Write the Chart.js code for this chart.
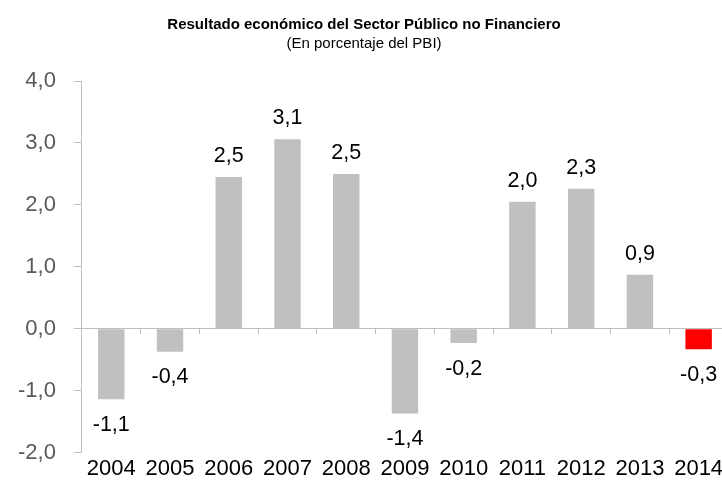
<!DOCTYPE html>
<html>
<head>
<meta charset="utf-8">
<script src="https://cdn.jsdelivr.net/npm/chart.js@4/dist/chart.umd.min.js"></script>
<style>
html,body{margin:0;padding:0;background:#fff;overflow:hidden;}
#wrap{width:732px;height:492px;position:relative;}
</style>
</head>
<body>
<div id="wrap"><canvas id="c"></canvas></div>
<script>
const categories = ['2004','2005','2006','2007','2008','2009','2010','2011','2012','2013','2014'];
const values = [-1.14, -0.37, 2.45, 3.06, 2.5, -1.37, -0.23, 2.05, 2.26, 0.87, -0.33];
const valueLabels = ['-1,1','-0,4','2,5','3,1','2,5','-1,4','-0,2','2,0','2,3','0,9','-0,3'];
const barColors = ['#c0c0c0','#c0c0c0','#c0c0c0','#c0c0c0','#c0c0c0','#c0c0c0','#c0c0c0','#c0c0c0','#c0c0c0','#c0c0c0','#ff0000'];
const yTicks = [-2, -1, 0, 1, 2, 3, 4];
const titleText = 'Resultado económico del Sector Público no Financiero';
const subtitleText = '(En porcentaje del PBI)';

const dataLabelPlugin = {
  id: 'dataLabels',
  afterDatasetsDraw(chart) {
    const ctx = chart.ctx;
    const meta = chart.getDatasetMeta(0);
    ctx.save();
    ctx.font = '21.5px "Liberation Sans", Arial, sans-serif';
    ctx.fillStyle = '#000';
    ctx.textAlign = 'center';
    meta.data.forEach((bar, i) => {
      const v = values[i];
      if (v >= 0) {
        ctx.textBaseline = 'alphabetic';
        ctx.fillText(valueLabels[i], bar.x, bar.y - 15);
      } else {
        ctx.textBaseline = 'top';
        ctx.fillText(valueLabels[i], bar.x, bar.y + 15);
      }
    });
    ctx.restore();
  }
};

new Chart(document.getElementById('c'), {
  type: 'bar',
  data: {
    labels: categories,
    datasets: [{
      data: values,
      backgroundColor: barColors,
      borderWidth: 0,
      categoryPercentage: 1,
      barPercentage: 0.45,
      xAxisID: 'x',
      yAxisID: 'y'
    }]
  },
  options: {
    responsive: true,
    maintainAspectRatio: false,
    animation: false,
    layout: { padding: { left: 0, right: 4, top: 0, bottom: 7 } },
    plugins: {
      legend: { display: false },
      tooltip: { enabled: false },
      title: {
        display: true,
        text: titleText,
        color: '#000',
        font: { family: '"Liberation Sans", Arial, sans-serif', size: 15, weight: 'bold' },
        padding: { top: 16, bottom: 1 }
      },
      subtitle: {
        display: true,
        text: subtitleText,
        color: '#000',
        font: { family: '"Liberation Sans", Arial, sans-serif', size: 15, weight: 'normal' },
        padding: { top: 0, bottom: 28 }
      }
    },
    scales: {
      x: {
        type: 'category',
        position: { y: 0 },
        offset: true,
        grid: { display: true, drawOnChartArea: false, drawTicks: true, tickLength: 5, color: '#bfbfbf', offset: true },
        border: { display: true, color: '#bfbfbf', width: 1 },
        ticks: { display: false }
      },
      x2: {
        type: 'category',
        position: 'bottom',
        labels: categories,
        offset: true,
        grid: { display: false, drawTicks: false },
        border: { display: false },
        ticks: { color: '#000', font: { family: '"Liberation Sans", Arial, sans-serif', size: 22 }, padding: 3, maxRotation: 0, autoSkip: false }
      },
      y: {
        min: -2,
        max: 4,
        afterBuildTicks(scale) { scale.ticks = yTicks.map(v => ({ value: v })); },
        grid: { display: true, drawOnChartArea: false, drawTicks: true, tickLength: 8, color: '#bfbfbf' },
        border: { display: true, color: '#bfbfbf', width: 1 },
        ticks: {
          color: '#595959',
          padding: 18,
          font: { family: '"Liberation Sans", Arial, sans-serif', size: 22 },
          callback: (v) => Number(v).toFixed(1).replace('.', ',')
        }
      }
    }
  },
  plugins: [dataLabelPlugin]
});
</script>
</body>
</html>
